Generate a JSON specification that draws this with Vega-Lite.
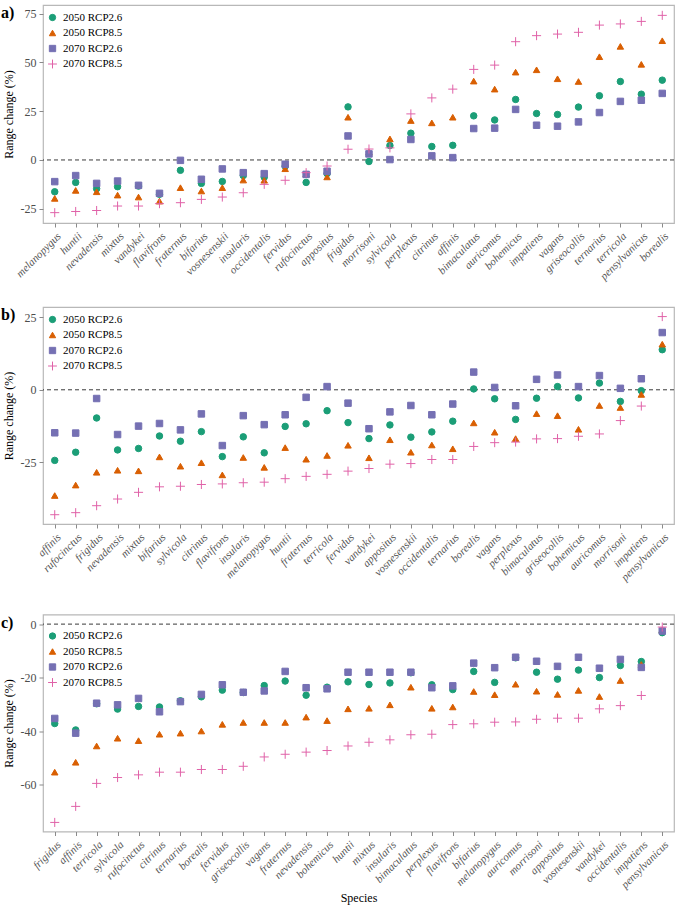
{
  "$schema": "https://vega.github.io/schema/vega-lite/v6.json",
  "padding": {"top": 4, "left": 0, "right": 3, "bottom": 1},
  "spacing": 23,
  "config": {
    "font": "Liberation Serif",
    "title": {"font": "Liberation Serif"},
    "view": {"stroke": "#b8b8b8", "strokeWidth": 1.2},
    "axis": {"grid": false, "domain": false, "tickColor": "#8a8a8a", "tickSize": 4, "labelColor": "#4d4d4d", "labelFont": "Liberation Serif", "titleFont": "Liberation Serif", "titleFontWeight": "normal", "titleColor": "#000000"},
    "axisY": {"labelFontSize": 12, "titleFontSize": 12, "labelPadding": 3, "titlePadding": 5, "labelExpr": "'' + datum.value"},
    "axisX": {"labelAngle": -45, "labelFontSize": 11, "labelFontStyle": "italic", "labelPadding": 3, "labelColor": "#555555", "titleFontSize": 12},
    "legend": {"labelFont": "Liberation Serif", "labelFontSize": 11, "labelColor": "#000000", "symbolStrokeWidth": 1, "symbolSize": 40, "rowPadding": 3.5, "labelOffset": 5}
  },
  "datasets": {
    "a": [
      {"s": "melanopygus", "r1": -16.3, "r2": -19.7, "r3": -11.1, "r4": -27.0},
      {"s": "huntii", "r1": -11.5, "r2": -15.6, "r3": -8.0, "r4": -26.4},
      {"s": "nevadensis", "r1": -14.7, "r2": -16.3, "r3": -12.0, "r4": -25.9},
      {"s": "mixtus", "r1": -13.7, "r2": -18.0, "r3": -10.8, "r4": -23.6},
      {"s": "vandykei", "r1": -13.4, "r2": -19.0, "r3": -13.0, "r4": -23.6},
      {"s": "flavifrons", "r1": -17.6, "r2": -21.1, "r3": -17.1, "r4": -22.4},
      {"s": "fraternus", "r1": -5.3, "r2": -14.2, "r3": -0.2, "r4": -21.9},
      {"s": "bifarius", "r1": -12.0, "r2": -15.9, "r3": -9.9, "r4": -20.2},
      {"s": "vosnesenskii", "r1": -11.0, "r2": -14.2, "r3": -4.6, "r4": -19.0},
      {"s": "insularis", "r1": -8.0, "r2": -10.3, "r3": -6.5, "r4": -16.8},
      {"s": "occidentalis", "r1": -8.8, "r2": -10.4, "r3": -7.0, "r4": -12.5},
      {"s": "fervidus", "r1": -3.2, "r2": -4.5, "r3": -2.2, "r4": -10.4},
      {"s": "rufocinctus", "r1": -11.5, "r2": -7.2, "r3": -7.4, "r4": -6.5},
      {"s": "appositus", "r1": -7.0, "r2": -8.7, "r3": -5.8, "r4": -3.1},
      {"s": "frigidus", "r1": 27.2, "r2": 21.9, "r3": 12.3, "r4": 5.5},
      {"s": "morrisoni", "r1": -0.8, "r2": 4.0, "r3": 3.1, "r4": 5.6},
      {"s": "sylvicola", "r1": 7.4, "r2": 10.8, "r3": 0.2, "r4": 6.2},
      {"s": "perplexus", "r1": 13.7, "r2": 20.2, "r3": 10.5, "r4": 23.6},
      {"s": "citrinus", "r1": 6.9, "r2": 19.0, "r3": 2.1, "r4": 31.8},
      {"s": "affinis", "r1": 7.5, "r2": 21.9, "r3": 1.2, "r4": 36.3},
      {"s": "bimaculatus", "r1": 22.6, "r2": 40.4, "r3": 16.1, "r4": 46.4},
      {"s": "auricomus", "r1": 20.5, "r2": 36.3, "r3": 16.3, "r4": 48.6},
      {"s": "bohemicus", "r1": 31.0, "r2": 45.0, "r3": 25.9, "r4": 60.6},
      {"s": "impatiens", "r1": 23.8, "r2": 46.2, "r3": 17.8, "r4": 63.7},
      {"s": "vagans", "r1": 23.3, "r2": 41.6, "r3": 17.3, "r4": 64.5},
      {"s": "griseocollis", "r1": 27.1, "r2": 40.2, "r3": 19.5, "r4": 65.4},
      {"s": "ternarius", "r1": 32.9, "r2": 52.9, "r3": 24.3, "r4": 69.1},
      {"s": "terricola", "r1": 40.2, "r2": 58.2, "r3": 30.0, "r4": 69.7},
      {"s": "pensylvanicus", "r1": 33.7, "r2": 49.0, "r3": 30.6, "r4": 71.0},
      {"s": "borealis", "r1": 40.9, "r2": 61.1, "r3": 34.1, "r4": 74.1}
    ],
    "b": [
      {"s": "affinis", "r1": -24.3, "r2": -36.4, "r3": -14.8, "r4": -43.0},
      {"s": "rufocinctus", "r1": -21.5, "r2": -32.8, "r3": -14.9, "r4": -42.3},
      {"s": "frigidus", "r1": -9.7, "r2": -28.4, "r3": -3.0, "r4": -39.9},
      {"s": "nevadensis", "r1": -20.7, "r2": -27.7, "r3": -15.4, "r4": -37.6},
      {"s": "mixtus", "r1": -20.2, "r2": -27.9, "r3": -12.5, "r4": -35.3},
      {"s": "bifarius", "r1": -15.9, "r2": -23.1, "r3": -11.6, "r4": -33.4},
      {"s": "sylvicola", "r1": -17.7, "r2": -26.3, "r3": -13.8, "r4": -33.2},
      {"s": "citrinus", "r1": -14.4, "r2": -25.1, "r3": -8.3, "r4": -32.6},
      {"s": "flavifrons", "r1": -23.0, "r2": -29.3, "r3": -19.2, "r4": -32.4},
      {"s": "insularis", "r1": -16.2, "r2": -23.3, "r3": -8.9, "r4": -32.0},
      {"s": "melanopygus", "r1": -21.7, "r2": -26.7, "r3": -12.0, "r4": -31.8},
      {"s": "huntii", "r1": -12.6, "r2": -19.9, "r3": -8.6, "r4": -30.6},
      {"s": "fraternus", "r1": -11.7, "r2": -23.9, "r3": -2.6, "r4": -29.8},
      {"s": "terricola", "r1": -7.2, "r2": -22.6, "r3": 1.1, "r4": -29.1},
      {"s": "fervidus", "r1": -11.3, "r2": -19.1, "r3": -4.6, "r4": -28.0},
      {"s": "vandykei", "r1": -16.8, "r2": -23.4, "r3": -13.4, "r4": -27.1},
      {"s": "appositus", "r1": -12.1, "r2": -17.2, "r3": -7.6, "r4": -25.6},
      {"s": "vosnesenskii", "r1": -16.3, "r2": -21.5, "r3": -5.4, "r4": -25.4},
      {"s": "occidentalis", "r1": -14.5, "r2": -19.0, "r3": -8.6, "r4": -24.0},
      {"s": "ternarius", "r1": -10.8, "r2": -20.3, "r3": -4.9, "r4": -24.0},
      {"s": "borealis", "r1": 0.3, "r2": -11.4, "r3": 6.1, "r4": -19.5},
      {"s": "vagans", "r1": -3.1, "r2": -14.6, "r3": 0.8, "r4": -18.2},
      {"s": "perplexus", "r1": -10.2, "r2": -16.8, "r3": -5.5, "r4": -18.0},
      {"s": "bimaculatus", "r1": -2.9, "r2": -8.2, "r3": 3.6, "r4": -16.9},
      {"s": "griseocollis", "r1": 1.1, "r2": -8.9, "r3": 5.1, "r4": -16.8},
      {"s": "bohemicus", "r1": -2.8, "r2": -13.6, "r3": 1.1, "r4": -16.0},
      {"s": "auricomus", "r1": 2.3, "r2": -5.4, "r3": 4.9, "r4": -15.2},
      {"s": "morrisoni", "r1": -4.0, "r2": -6.1, "r3": 0.5, "r4": -10.6},
      {"s": "impatiens", "r1": -0.3, "r2": -1.6, "r3": 3.8, "r4": -5.6},
      {"s": "pensylvanicus", "r1": 13.8, "r2": 15.7, "r3": 19.7, "r4": 25.2}
    ],
    "c": [
      {"s": "frigidus", "r1": -37.2, "r2": -55.4, "r3": -35.3, "r4": -74.2},
      {"s": "affinis", "r1": -39.6, "r2": -51.7, "r3": -40.8, "r4": -68.2},
      {"s": "terricola", "r1": -29.8, "r2": -45.6, "r3": -29.6, "r4": -59.6},
      {"s": "sylvicola", "r1": -31.8, "r2": -42.7, "r3": -30.2, "r4": -57.4},
      {"s": "rufocinctus", "r1": -30.8, "r2": -43.6, "r3": -27.8, "r4": -56.4},
      {"s": "citrinus", "r1": -31.0, "r2": -41.2, "r3": -32.8, "r4": -55.4},
      {"s": "ternarius", "r1": -28.7, "r2": -40.8, "r3": -29.0, "r4": -55.4},
      {"s": "borealis", "r1": -27.2, "r2": -40.0, "r3": -26.3, "r4": -54.4},
      {"s": "fervidus", "r1": -24.7, "r2": -37.5, "r3": -22.7, "r4": -54.4},
      {"s": "griseocollis", "r1": -25.6, "r2": -36.8, "r3": -25.5, "r4": -53.2},
      {"s": "vagans", "r1": -23.0, "r2": -36.8, "r3": -25.0, "r4": -49.7},
      {"s": "fraternus", "r1": -21.3, "r2": -36.8, "r3": -17.7, "r4": -48.7},
      {"s": "nevadensis", "r1": -26.6, "r2": -34.8, "r3": -23.8, "r4": -47.9},
      {"s": "bohemicus", "r1": -23.6, "r2": -36.1, "r3": -24.2, "r4": -47.3},
      {"s": "huntii", "r1": -21.6, "r2": -31.7, "r3": -18.0, "r4": -45.6},
      {"s": "mixtus", "r1": -22.6, "r2": -31.5, "r3": -18.0, "r4": -44.2},
      {"s": "insularis", "r1": -22.0, "r2": -30.2, "r3": -18.0, "r4": -43.3},
      {"s": "bimaculatus", "r1": -18.2, "r2": -23.6, "r3": -18.0, "r4": -41.4},
      {"s": "perplexus", "r1": -22.7, "r2": -31.5, "r3": -23.8, "r4": -41.2},
      {"s": "flavifrons", "r1": -24.5, "r2": -31.0, "r3": -23.1, "r4": -37.6},
      {"s": "bifarius", "r1": -17.7, "r2": -25.2, "r3": -14.6, "r4": -37.3},
      {"s": "melanopygus", "r1": -21.8, "r2": -26.4, "r3": -16.3, "r4": -36.7},
      {"s": "auricomus", "r1": -12.6, "r2": -22.5, "r3": -12.4, "r4": -36.6},
      {"s": "morrisoni", "r1": -18.0, "r2": -25.1, "r3": -13.9, "r4": -35.6},
      {"s": "appositus", "r1": -20.6, "r2": -26.3, "r3": -15.8, "r4": -35.2},
      {"s": "vosnesenskii", "r1": -17.2, "r2": -24.8, "r3": -12.4, "r4": -35.2},
      {"s": "vandykei", "r1": -20.0, "r2": -27.1, "r3": -16.5, "r4": -31.7},
      {"s": "occidentalis", "r1": -15.5, "r2": -21.1, "r3": -13.2, "r4": -30.5},
      {"s": "impatiens", "r1": -14.0, "r2": -15.1, "r3": -16.2, "r4": -26.7},
      {"s": "pensylvanicus", "r1": -3.2, "r2": -2.2, "r3": -2.6, "r4": -1.1}
    ]
  },
  "vconcat": [
    {
      "width": 631, "height": 218,
      "title": {"text": "a)", "anchor": "start", "frame": "bounds", "offset": -16, "dx": -1, "fontSize": 16, "fontWeight": "bold", "color": "#000000"},
      "layer": [
        {"data": {"values": [{}]}, "mark": {"type": "rule", "strokeDash": [4, 3], "color": "#3a3a3a", "strokeWidth": 1}, "encoding": {"y": {"datum": 0, "type": "quantitative"}}},
        {
          "data": {"name": "a"},
          "transform": [{"fold": ["r1", "r2", "r3", "r4"], "as": ["scen", "val"]}],
          "mark": {"type": "point", "filled": true, "size": 42, "opacity": 1, "strokeWidth": 1},
          "encoding": {
            "x": {"field": "s", "type": "nominal", "sort": null, "scale": {"type": "point", "padding": 0.56}, "axis": {"title": null}},
            "y": {"field": "val", "type": "quantitative", "scale": {"domain": [-32.3, 79.4], "nice": false, "zero": false}, "axis": {"values": [-25, 0, 25, 50, 75], "title": "Range change (%)"}},
            "color": {"field": "scen", "type": "nominal", "scale": {"domain": ["r1", "r2", "r3", "r4"], "range": ["#1b9e77", "#d95f02", "#7570b3", "#e062a8"]}, "legend": {"orient": "none", "legendX": 4, "legendY": 7, "title": null, "labelExpr": "{'r1':'2050 RCP2.6','r2':'2050 RCP8.5','r3':'2070 RCP2.6','r4':'2070 RCP8.5'}[datum.value]"}},
            "stroke": {"field": "scen", "type": "nominal", "scale": {"domain": ["r1", "r2", "r3", "r4"], "range": ["#1b9e77", "#d95f02", "#7570b3", "#e062a8"]}, "legend": {"orient": "none", "legendX": 4, "legendY": 7, "title": null, "labelExpr": "{'r1':'2050 RCP2.6','r2':'2050 RCP8.5','r3':'2070 RCP2.6','r4':'2070 RCP8.5'}[datum.value]"}},
            "shape": {"field": "scen", "type": "nominal", "scale": {"domain": ["r1", "r2", "r3", "r4"], "range": ["circle", "triangle-up", "square", "M-1.4,0H1.4M0,-1.4V1.4"]}, "legend": {"orient": "none", "legendX": 4, "legendY": 7, "title": null, "labelExpr": "{'r1':'2050 RCP2.6','r2':'2050 RCP8.5','r3':'2070 RCP2.6','r4':'2070 RCP8.5'}[datum.value]"}}
          }
        }
      ]
    },
    {
      "spacing": 29.5,
      "vconcat": [
        {
          "width": 631, "height": 217,
          "title": {"text": "b)", "anchor": "start", "frame": "bounds", "offset": -16, "dx": -1, "fontSize": 16, "fontWeight": "bold", "color": "#000000"},
          "layer": [
            {"data": {"values": [{}]}, "mark": {"type": "rule", "strokeDash": [4, 3], "color": "#3a3a3a", "strokeWidth": 1}, "encoding": {"y": {"datum": 0, "type": "quantitative"}}},
            {
              "data": {"name": "b"},
              "transform": [{"fold": ["r1", "r2", "r3", "r4"], "as": ["scen", "val"]}],
              "mark": {"type": "point", "filled": true, "size": 42, "opacity": 1, "strokeWidth": 1},
              "encoding": {
                "x": {"field": "s", "type": "nominal", "sort": null, "scale": {"type": "point", "padding": 0.56}, "axis": {"title": null}},
                "y": {"field": "val", "type": "quantitative", "scale": {"domain": [-46.2, 28.5], "nice": false, "zero": false}, "axis": {"values": [-25, 0, 25], "title": "Range change (%)"}},
                "color": {"field": "scen", "type": "nominal", "scale": {"domain": ["r1", "r2", "r3", "r4"], "range": ["#1b9e77", "#d95f02", "#7570b3", "#e062a8"]}, "legend": {"orient": "none", "legendX": 4, "legendY": 7, "title": null, "labelExpr": "{'r1':'2050 RCP2.6','r2':'2050 RCP8.5','r3':'2070 RCP2.6','r4':'2070 RCP8.5'}[datum.value]"}},
                "stroke": {"field": "scen", "type": "nominal", "scale": {"domain": ["r1", "r2", "r3", "r4"], "range": ["#1b9e77", "#d95f02", "#7570b3", "#e062a8"]}, "legend": {"orient": "none", "legendX": 4, "legendY": 7, "title": null, "labelExpr": "{'r1':'2050 RCP2.6','r2':'2050 RCP8.5','r3':'2070 RCP2.6','r4':'2070 RCP8.5'}[datum.value]"}},
                "shape": {"field": "scen", "type": "nominal", "scale": {"domain": ["r1", "r2", "r3", "r4"], "range": ["circle", "triangle-up", "square", "M-1.4,0H1.4M0,-1.4V1.4"]}, "legend": {"orient": "none", "legendX": 4, "legendY": 7, "title": null, "labelExpr": "{'r1':'2050 RCP2.6','r2':'2050 RCP8.5','r3':'2070 RCP2.6','r4':'2070 RCP8.5'}[datum.value]"}}
              }
            }
          ]
        },
        {
          "width": 631, "height": 217,
          "title": {"text": "c)", "anchor": "start", "frame": "bounds", "offset": -16, "dx": -1, "fontSize": 16, "fontWeight": "bold", "color": "#000000"},
          "layer": [
            {"data": {"values": [{}]}, "mark": {"type": "rule", "strokeDash": [4, 3], "color": "#3a3a3a", "strokeWidth": 1}, "encoding": {"y": {"datum": 0, "type": "quantitative"}}},
            {
              "data": {"name": "c"},
              "transform": [{"fold": ["r1", "r2", "r3", "r4"], "as": ["scen", "val"]}],
              "mark": {"type": "point", "filled": true, "size": 42, "opacity": 1, "strokeWidth": 1},
              "encoding": {
                "x": {"field": "s", "type": "nominal", "sort": null, "scale": {"type": "point", "padding": 0.56}, "axis": {"title": "Species", "titlePadding": 3}},
                "y": {"field": "val", "type": "quantitative", "scale": {"domain": [-77.6, 3.6], "nice": false, "zero": false}, "axis": {"values": [-60, -40, -20, 0], "title": "Range change (%)"}},
                "color": {"field": "scen", "type": "nominal", "scale": {"domain": ["r1", "r2", "r3", "r4"], "range": ["#1b9e77", "#d95f02", "#7570b3", "#e062a8"]}, "legend": {"orient": "none", "legendX": 4, "legendY": 16, "title": null, "labelExpr": "{'r1':'2050 RCP2.6','r2':'2050 RCP8.5','r3':'2070 RCP2.6','r4':'2070 RCP8.5'}[datum.value]"}},
                "stroke": {"field": "scen", "type": "nominal", "scale": {"domain": ["r1", "r2", "r3", "r4"], "range": ["#1b9e77", "#d95f02", "#7570b3", "#e062a8"]}, "legend": {"orient": "none", "legendX": 4, "legendY": 16, "title": null, "labelExpr": "{'r1':'2050 RCP2.6','r2':'2050 RCP8.5','r3':'2070 RCP2.6','r4':'2070 RCP8.5'}[datum.value]"}},
                "shape": {"field": "scen", "type": "nominal", "scale": {"domain": ["r1", "r2", "r3", "r4"], "range": ["circle", "triangle-up", "square", "M-1.4,0H1.4M0,-1.4V1.4"]}, "legend": {"orient": "none", "legendX": 4, "legendY": 16, "title": null, "labelExpr": "{'r1':'2050 RCP2.6','r2':'2050 RCP8.5','r3':'2070 RCP2.6','r4':'2070 RCP8.5'}[datum.value]"}}
              }
            }
          ]
        }
      ],
      "resolve": {"scale": {"color": "independent", "stroke": "independent", "shape": "independent"}, "legend": {"color": "independent", "stroke": "independent", "shape": "independent"}}
    }
  ],
  "resolve": {"scale": {"color": "independent", "stroke": "independent", "shape": "independent"}, "legend": {"color": "independent", "stroke": "independent", "shape": "independent"}}
}
